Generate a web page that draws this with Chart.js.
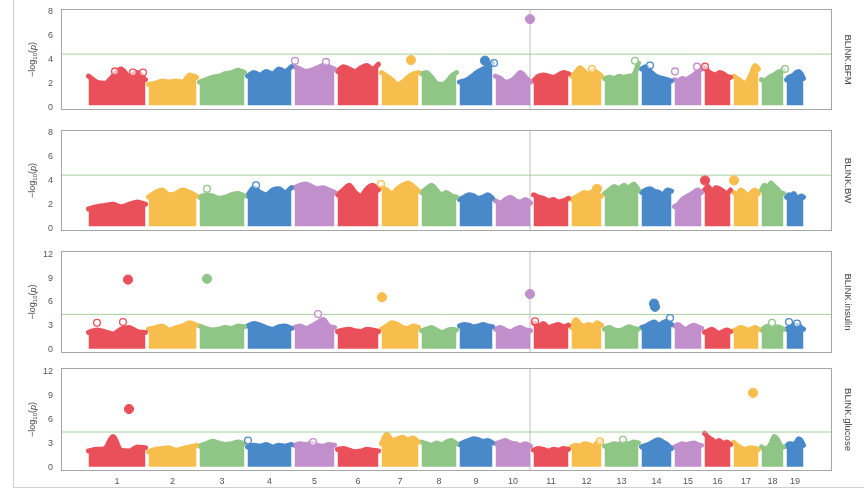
<!DOCTYPE html>
<html>
<head>
<meta charset="utf-8">
<script src="https://cdn.jsdelivr.net/npm/chart.js@4.4.1/dist/chart.umd.min.js"></script>
<style>
  body { margin: 0; background: #fff; width: 864px; height: 491px; overflow: hidden; position: relative; }
  .frame { position: absolute; left: 13px; top: 0; width: 851px; height: 488px; box-sizing: border-box;
           border-left: 1px solid #cfcfcf; border-bottom: 1px solid #cfcfcf; }
  canvas { position: absolute; left: 0; }
</style>
</head>
<body>
<div class="frame"></div>
<canvas id="p0" width="864" height="120" style="top:0"></canvas>
<canvas id="p1" width="864" height="121" style="top:120px"></canvas>
<canvas id="p2" width="864" height="120" style="top:241px"></canvas>
<canvas id="p3" width="864" height="130" style="top:361px"></canvas>
<script>
// chromosomes
const chromNames = ['1','2','3','4','5','6','7','8','9','10','11','12','13','14','15','16','17','18','19'];
const chromLen   = [60, 51, 48, 47, 43, 44, 40, 38, 36, 38, 38, 33, 37, 33, 30, 29, 28, 25, 20];

// significance threshold, -log10(p)
const threshold = 4.45;

// upper edge of the SNP cloud, per chromosome (read left to right)
const bfmTop = [
  [2.6,2.1,2.0,2.6,3.2,2.6,2.9,2.3], [1.9,2.0,2.2,2.1,2.2,2.1,2.7,2.5], [2.1,2.3,2.5,2.6,2.8,2.9,3.1,2.9],
  [2.6,2.9,2.7,3.0,2.8,3.2,3.0,3.4], [3.4,3.2,3.0,3.1,3.3,3.5,3.4,3.2], [3.0,3.4,3.2,3.0,3.3,3.5,3.2,3.6],
  [2.9,2.6,2.3,1.9,2.1,2.5,2.8,2.9], [2.8,2.9,2.5,2.0,1.9,2.1,2.6,2.9], [2.1,2.2,2.4,2.7,3.0,3.2,3.4,3.7],
  [2.6,2.4,2.1,2.2,2.5,2.9,2.5,2.1], [2.2,2.6,2.7,2.6,2.5,2.7,2.9,2.8], [2.6,2.9,3.3,3.0,2.7,3.1,2.9,2.6],
  [2.4,2.5,2.4,2.6,2.5,2.6,2.7,3.7], [3.2,3.4,3.0,2.7,2.5,2.4,2.3,2.2], [2.3,2.2,2.4,2.3,2.5,2.7,3.0,3.2],
  [3.3,3.0,2.8,2.7,2.9,2.8,2.6,2.5], [2.6,2.4,2.2,2.0,2.2,2.8,3.5,3.2], [2.3,2.2,2.4,2.6,2.7,2.9,3.0,3.1],
  [2.3,2.5,2.6,2.7,2.9,3.0,2.8,2.4]
];
const bwTop = [
  [1.6,1.8,1.9,2.0,1.8,2.0,2.2,2.0], [2.6,3.0,3.2,2.8,2.9,3.2,3.0,2.7], [2.6,2.8,2.7,2.5,2.6,2.8,2.9,2.7],
  [2.7,3.4,3.0,2.8,3.2,3.3,3.0,3.4], [3.4,3.6,3.7,3.5,3.3,3.4,3.2,3.0], [2.8,3.2,3.6,3.0,2.7,3.3,3.6,3.2],
  [3.4,3.2,2.9,3.3,3.6,3.8,3.5,3.1], [3.0,3.3,3.6,3.2,2.8,3.0,2.7,2.6], [2.4,2.6,2.8,2.7,2.5,2.6,2.8,2.5],
  [2.3,2.1,2.4,2.6,2.3,2.2,2.4,2.1], [2.8,2.6,2.5,2.3,2.4,2.2,2.3,2.5], [2.4,2.6,2.8,3.0,2.9,3.1,2.8,2.7],
  [2.9,3.2,3.5,3.3,3.6,3.4,3.7,3.2], [3.0,3.2,3.3,3.1,3.0,2.8,3.2,3.1], [1.8,2.0,2.4,2.6,2.8,3.0,3.2,3.0],
  [3.2,3.5,3.0,3.4,3.3,3.1,2.9,3.2], [3.0,2.8,3.2,3.0,2.7,3.0,3.2,2.9], [3.2,3.6,3.4,3.8,3.5,3.3,3.0,2.9],
  [2.6,2.8,2.7,2.9,2.6,2.5,2.7,2.6]
];
const insulinTop = [
  [2.2,2.5,2.3,2.0,2.6,2.8,2.3,2.2], [2.6,2.8,3.0,2.5,2.8,3.0,3.4,3.1], [3.0,2.7,2.5,2.6,2.8,2.7,3.0,2.9],
  [3.0,3.3,3.1,2.8,2.6,2.9,3.0,2.7], [2.8,3.0,2.7,3.0,3.4,3.8,3.0,2.8], [2.3,2.5,2.6,2.4,2.3,2.6,2.5,2.3],
  [2.6,3.0,3.4,3.2,2.8,2.7,3.0,2.8], [2.4,2.6,2.8,2.5,2.2,2.4,2.6,2.5], [3.0,3.2,3.1,2.9,3.0,3.2,3.0,2.9],
  [2.6,2.8,2.5,2.3,2.6,2.8,2.5,2.4], [3.4,3.0,3.3,2.8,3.0,3.2,2.9,3.1], [2.8,3.8,3.2,3.0,3.2,3.0,3.4,3.1],
  [2.6,2.8,2.5,2.4,2.6,2.9,2.7,2.6], [2.8,3.0,3.3,3.5,3.1,3.4,3.6,3.2], [3.0,3.2,2.8,2.6,2.9,3.1,2.9,2.7],
  [2.2,2.4,2.6,2.3,2.1,2.3,2.5,2.3], [2.4,2.6,2.8,2.7,2.5,2.6,2.8,2.6], [2.5,2.8,3.0,2.7,2.6,2.9,2.8,2.6],
  [2.6,2.8,3.0,3.2,2.9,3.1,2.8,2.6]
];
const glucoseTop = [
  [2.1,2.3,2.4,3.9,2.2,2.1,2.6,2.5], [2.0,2.3,2.4,2.5,2.2,2.4,2.6,2.8], [2.7,3.0,3.3,3.1,2.9,3.0,3.2,3.0],
  [2.6,2.8,2.7,2.9,2.6,2.8,2.7,2.9], [2.8,3.0,2.9,3.1,2.8,2.7,2.9,2.8], [2.3,2.4,2.2,2.0,2.1,2.3,2.2,2.1],
  [3.0,4.2,3.4,3.6,3.8,3.5,3.7,3.2], [3.2,3.0,2.8,3.1,2.9,3.2,3.4,3.0], [2.9,3.2,3.4,3.6,3.5,3.3,3.4,3.1],
  [3.0,3.2,3.4,3.1,3.0,2.8,3.0,2.7], [2.2,2.4,2.3,2.1,2.3,2.2,2.4,2.3], [2.6,2.8,2.7,3.0,2.9,2.7,3.1,3.3],
  [2.7,2.8,3.0,2.9,3.1,3.0,3.2,3.1], [2.6,2.8,3.0,3.3,3.5,3.2,2.9,2.4], [2.6,2.8,3.0,2.9,3.0,3.1,2.9,2.8],
  [4.3,3.8,3.5,3.2,3.4,3.0,3.2,2.9], [3.2,2.8,2.5,2.3,2.4,2.5,2.4,2.3], [2.6,2.4,2.5,3.0,3.9,3.6,2.8,2.6],
  [2.7,3.0,3.0,2.9,3.2,3.6,3.4,2.8]
];

// single SNPs sitting on top of the cloud: [chromosome, position in chromosome, -log10(p)]
const bfmRings = [[1,28,3.0],[1,46,2.9],[1,56,2.9],[5,2,3.9],[5,33,3.8],[9,36,3.7],[12,22,3.2],
                  [13,32,3.9],[14,10,3.5],[15,2,3.0],[15,24,3.4],[16,2,3.4],[18,25,3.2]];
const bwRings = [[3,9,3.3],[4,10,3.6],[7,1,3.7]];
const insulinRings = [[1,10,3.4],[1,36,3.5],[5,25,4.5],[11,3,3.6],[14,30,4.0],[18,12,3.4],[19,4,3.5],[19,12,3.3]];
const glucoseRings = [[4,2,3.4],[5,20,3.2],[12,30,3.3],[13,20,3.5]];

// highlighted SNPs
const bfmHits = [[7,31,3.95],[9,27,3.9],[10,36,7.4]];
const bwHits = [[12,27,3.3],[16,2,4.0],[17,2,4.0]];
const insulinHits = [[1,41,8.8],[3,9,8.9],[7,2,6.6],[10,36,7.0],[14,14,5.8],[14,15,5.4]];
const glucoseHits = [[1,42,7.3],[17,21,9.3]];

// marker shared by all panels
const markerSnp = [10, 36];

// y ticks
const ticks8 = [0, 2, 4, 6, 8];
const ticks12 = [0, 3, 6, 9, 12];

// ---- drawing ----
const palette = ['#e9505a', '#f7be4e', '#8fc685', '#4a89c9', '#c18fcb'];
const colorOf = c => palette[(c - 1) % palette.length];

const starts = [];
chromLen.reduce((acc, l) => { starts.push(acc); return acc + l; }, 0);
const centers = chromLen.map((l, i) => starts[i] + l / 2);
const posOf = (c, p) => starts[c - 1] + p;
const X_MIN = -26, X_MAX = 745;

// pad = layout padding [top, bottom]
const panels = [
  { id: 'p0', label: 'BLINK.BFM',     tops: bfmTop,     rings: bfmRings,     hits: bfmHits,     ticks: ticks8,  pad: [9, 10],  xAxis: false },
  { id: 'p1', label: 'BLINK.BW',      tops: bwTop,      rings: bwRings,      hits: bwHits,      ticks: ticks8,  pad: [10, 10], xAxis: false },
  { id: 'p2', label: 'BLINK.insulin', tops: insulinTop, rings: insulinRings, hits: insulinHits, ticks: ticks12, pad: [10, 8],  xAxis: false },
  { id: 'p3', label: 'BLINK.glucose', tops: glucoseTop, rings: glucoseRings, hits: glucoseHits, ticks: ticks12, pad: [7, 0],   xAxis: true }
];

// panel box, strip label and y title
const panelDecor = {
  id: 'panelDecor',
  afterDraw(chart, args, opts) {
    const { ctx, chartArea: a } = chart;
    const midY = (a.top + a.bottom) / 2;
    ctx.save();
    ctx.strokeStyle = '#a6a6a6';
    ctx.lineWidth = 1;
    ctx.strokeRect(Math.round(a.left) + 0.5, Math.round(a.top) + 0.5,
                   Math.round(a.right - a.left) - 1, Math.round(a.bottom - a.top) - 1);
    ctx.restore();

    ctx.save();
    ctx.fillStyle = '#444';
    ctx.font = '9.5px "Liberation Sans", Arial, sans-serif';
    ctx.textAlign = 'center';
    ctx.textBaseline = 'middle';
    ctx.translate(848, midY);
    ctx.rotate(Math.PI / 2);
    ctx.fillText(opts.label, 0, 0);
    ctx.restore();

    // -log10(p), drawn in pieces for the subscript and italic p
    const parts = [
      { t: '\u2212log', f: '9px "Liberation Sans", Arial, sans-serif', dy: 0 },
      { t: '10', f: '6px "Liberation Sans", Arial, sans-serif', dy: 2 },
      { t: '(', f: '9px "Liberation Sans", Arial, sans-serif', dy: 0 },
      { t: 'p', f: 'italic 9px "Liberation Sans", Arial, sans-serif', dy: 0 },
      { t: ')', f: '9px "Liberation Sans", Arial, sans-serif', dy: 0 }
    ];
    ctx.save();
    ctx.fillStyle = '#444';
    ctx.textBaseline = 'middle';
    ctx.translate(33, midY);
    ctx.rotate(-Math.PI / 2);
    let w = 0;
    parts.forEach(p => { ctx.font = p.f; p.w = ctx.measureText(p.t).width; w += p.w; });
    let x = -w / 2;
    parts.forEach(p => { ctx.font = p.f; ctx.fillText(p.t, x, p.dy); x += p.w; });
    ctx.restore();
  }
};

function buildDatasets(panel, yMin, yMax) {
  const ds = [];
  // marker line
  const mx = posOf(markerSnp[0], markerSnp[1]);
  ds.push({
    data: [{ x: mx, y: yMin }, { x: mx, y: yMax }],
    borderColor: 'rgba(140,140,140,0.55)', borderWidth: 1, pointRadius: 0, fill: false, order: 5
  });
  // SNP clouds
  panel.tops.forEach((vals, i) => {
    const c = i + 1, n = vals.length;
    ds.push({
      data: vals.map((v, k) => ({ x: starts[i] + 1.5 + (chromLen[i] - 3) * k / (n - 1), y: v })),
      borderColor: colorOf(c), backgroundColor: colorOf(c),
      borderWidth: 5, borderCapStyle: 'round', borderJoinStyle: 'round',
      pointRadius: 0, cubicInterpolationMode: 'monotone',
      fill: { value: 0.15 }, order: 4
    });
  });
  // threshold
  ds.push({
    data: [{ x: X_MIN, y: threshold }, { x: X_MAX, y: threshold }],
    borderColor: '#a4d09c', borderWidth: 1, pointRadius: 0, fill: false, order: 3
  });
  // single SNPs on the cloud edge
  ds.push({
    data: panel.rings.map(r => ({ x: posOf(r[0], r[1]), y: r[2] })),
    showLine: false, pointRadius: 3.4, pointBorderWidth: 1.3,
    pointBackgroundColor: 'rgba(255,255,255,0.6)',
    pointBorderColor: panel.rings.map(r => colorOf(r[0])), order: 2
  });
  // highlighted SNPs
  ds.push({
    data: panel.hits.map(h => ({ x: posOf(h[0], h[1]), y: h[2] })),
    showLine: false, pointRadius: 4.6, pointBorderWidth: 1,
    pointBackgroundColor: panel.hits.map(h => colorOf(h[0])),
    pointBorderColor: panel.hits.map(h => colorOf(h[0])), order: 1
  });
  return ds;
}

const tickFont = { family: '"Liberation Sans", Arial, sans-serif', size: 9 };
// invisible tick marks push the labels away from the box without padding the chart area
const hiddenTickGrid = { display: true, drawOnChartArea: false, drawTicks: true, tickLength: 8, color: 'rgba(0,0,0,0)' };

panels.forEach(panel => {
  const top = panel.ticks[panel.ticks.length - 1];
  const extra = top === 8 ? 0.25 : 0.38;
  const yMin = -extra, yMax = top + extra;

  new Chart(document.getElementById(panel.id), {
    type: 'line',
    data: { datasets: buildDatasets(panel, yMin, yMax) },
    options: {
      responsive: false,
      animation: false,
      events: [],
      layout: { padding: { top: panel.pad[0], bottom: panel.pad[1], left: 0, right: 32 } },
      plugins: { legend: { display: false }, tooltip: { enabled: false }, panelDecor: { label: panel.label } },
      scales: {
        x: {
          type: 'linear', min: X_MIN, max: X_MAX, display: panel.xAxis,
          grid: { ...hiddenTickGrid, tickLength: 5 }, border: { display: false },
          afterBuildTicks: s => { s.ticks = centers.map(v => ({ value: v })); },
          afterFit: s => { if (panel.xAxis) s.height = 20; },
          ticks: {
            font: tickFont, color: '#555', padding: 0, maxRotation: 0, autoSkip: false,
            callback: (v, i) => chromNames[i]
          }
        },
        y: {
          min: yMin, max: yMax,
          grid: hiddenTickGrid, border: { display: false },
          afterBuildTicks: s => { s.ticks = panel.ticks.map(v => ({ value: v })); },
          afterFit: s => { s.width = 61; },
          ticks: { font: tickFont, color: '#555', padding: 0 }
        }
      }
    },
    plugins: [panelDecor]
  });
});
</script>
</body>
</html>
